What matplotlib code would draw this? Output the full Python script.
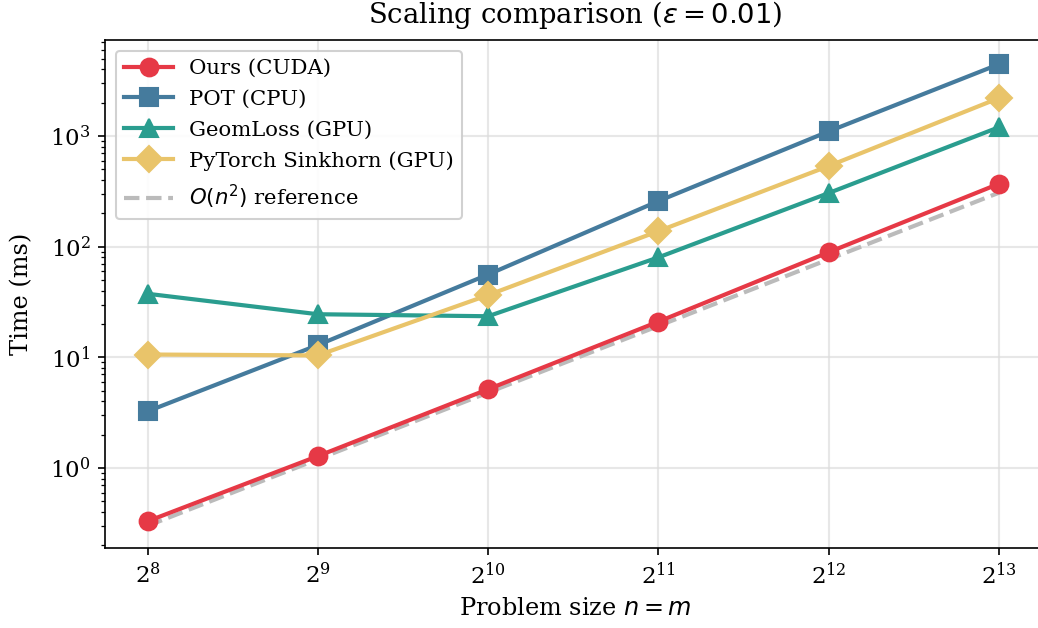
import matplotlib
matplotlib.use("Agg")
import matplotlib.pyplot as plt

# problem sizes (powers of two)
sizes = [2**8, 2**9, 2**10, 2**11, 2**12, 2**13]

# timings in ms
ours_cuda = [0.33, 1.28, 5.15, 21.0, 89.0, 370.0]
pot_cpu = [3.25, 12.9, 56.0, 258.0, 1100.0, 4450.0]
geomloss_gpu = [37.5, 24.5, 23.5, 80.0, 305.0, 1200.0]
torch_sinkhorn = [10.6, 10.4, 36.5, 138.0, 535.0, 2200.0]
n2_reference = [0.30, 1.2, 4.8, 19.2, 76.8, 307.2]

plt.rcParams['font.family'] = 'DejaVu Serif'

fig = plt.figure(figsize=(1038 / 150, 628 / 150), dpi=150)
ax = fig.add_axes([105 / 1038, 1 - 548 / 628, 940 / 1038, 508 / 628])

ax.plot(sizes, ours_cuda, '-o', color='#E63946', lw=2, ms=8.5, label='Ours (CUDA)', zorder=5)
ax.plot(sizes, pot_cpu, '-s', color='#457B9D', lw=2, ms=8.5, label='POT (CPU)')
ax.plot(sizes, geomloss_gpu, '-^', color='#2A9D8F', lw=2, ms=8.5, label='GeomLoss (GPU)')
ax.plot(sizes, torch_sinkhorn, '-D', color='#E9C46A', lw=2, ms=8.5, label='PyTorch Sinkhorn (GPU)')
ax.plot(sizes, n2_reference, '--', color='#BBBBBB', lw=2, label=r'$O(n^2)$ reference', zorder=4)

ax.set_xscale('log', base=2)
ax.set_yscale('log')
ax.set_xlim(2**7.75, 2**13.27)
ax.set_ylim(10**-0.723, 10**3.867)

ax.spines['right'].set_visible(False)
ax.grid(True, which='major', color='#dddddd', alpha=0.7, lw=1)
ax.tick_params(labelsize=11)

ax.set_xlabel(r'Problem size $n = m$', fontsize=11.5)
ax.set_ylabel('Time (ms)', fontsize=11.5, labelpad=8)
ax.set_title(r'Scaling comparison ($\varepsilon = 0.01$)', fontsize=13.2, pad=8)

ax.legend(loc='upper left', fontsize=10.2, framealpha=0.9, edgecolor='#cccccc',
          handlelength=2.3, handletextpad=0.75, labelspacing=0.55)

fig.savefig('out.png', dpi=150)
